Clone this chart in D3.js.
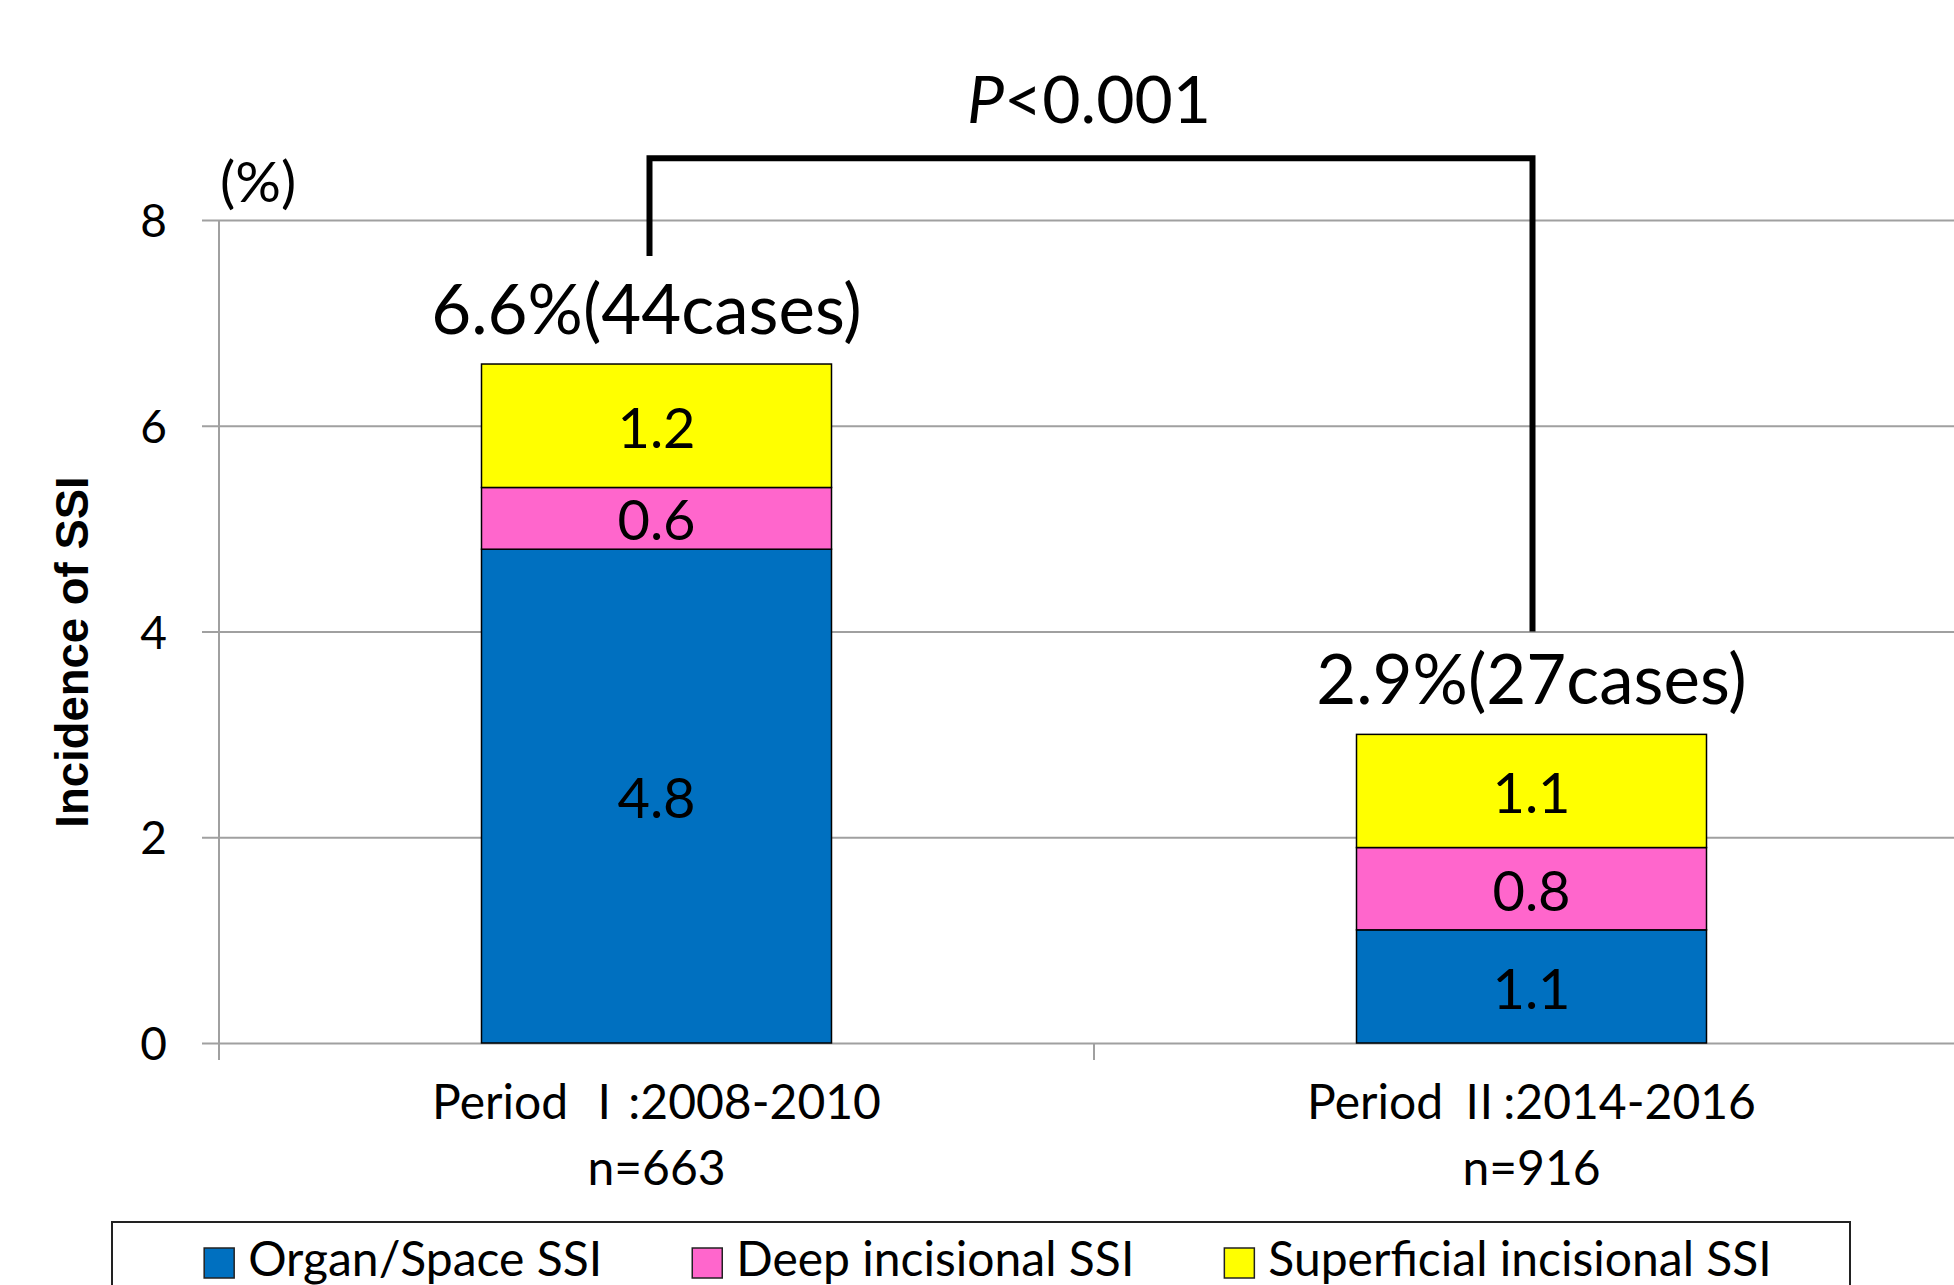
<!DOCTYPE html>
<html>
<head>
<meta charset="utf-8">
<script src="https://cdn.jsdelivr.net/npm/d3@7"></script>
<style>
  body { margin: 0; background: #fff; }
  text { font-family: Lato, "Noto Sans CJK JP", sans-serif; fill: #000; }
</style>
</head>
<body>
<div id="chart"></div>
<script>
// values
const periods = ["Period Ⅰ:2008-2010", "Period Ⅱ:2014-2016"];
const sampleSizes = ["n=663", "n=916"];
const seriesNames = ["Organ/Space SSI", "Deep incisional SSI", "Superficial incisional SSI"];
const organSpace = [4.8, 1.1];
const deepIncisional = [0.6, 0.8];
const superficial = [1.2, 1.1];
const totalLabels = ["6.6%(44cases)", "2.9%(27cases)"];
const yTicks = [0, 2, 4, 6, 8];
const pLabel = "P<0.001";
const bracketTop = 8.6;
const bracketEnds = [7.65, 4.0];

const colors = ["#0070C0", "#FF66CC", "#FFFF00"];

let w = 1954;
let h = 1285;

const svg = d3.select("#chart").
append("svg").
attr("width", w).
attr("height", h);

// plot area (category band runs past the right edge like the original)
const x = d3.scaleBand().
domain(periods).
range([219, 1969]).
padding(0);

const y = d3.scaleLinear().
domain([0, 8]).
range([1043, 220]);

const barW = x.bandwidth() * 0.4;
const barX = d => x(d) + (x.bandwidth() - barW) / 2;
const cx = d => x(d) + x.bandwidth() / 2;

// y axis with gridlines
const yAxis = d3.axisLeft(y).
tickValues(yTicks).
tickSizeInner(-(w - 219)).
tickSizeOuter(0).
tickPadding(52);

const gy = svg.append("g").
attr("transform", "translate(219,0)").
call(yAxis);
gy.select(".domain").remove();
gy.selectAll(".tick line").
attr("x1", -17).
attr("stroke", "#A0A0A0").
attr("stroke-width", 2);
gy.selectAll(".tick text").
attr("dy", "0.36em").
style("font-size", "46px").
style("font-family", "Lato");

// vertical axis line + category separators
svg.append("line").
attr("x1", 219).attr("x2", 219).
attr("y1", y(8)).attr("y2", y(0) + 17).
attr("stroke", "#A0A0A0").attr("stroke-width", 2);

svg.selectAll(".cat-tick").
data(periods.slice(1)).
enter().
append("line").
attr("x1", d => x(d)).attr("x2", d => x(d)).
attr("y1", y(0)).attr("y2", y(0) + 17).
attr("stroke", "#A0A0A0").attr("stroke-width", 2);

// stacked bars
const stackData = periods.map((p, i) => ({
  period: p,
  organ: organSpace[i],
  deep: deepIncisional[i],
  sup: superficial[i]
}));
const stack = d3.stack().keys(["organ", "deep", "sup"]);
const layers = stack(stackData);

const layerG = svg.selectAll(".layer").
data(layers).
enter().
append("g").
attr("class", "layer").
attr("fill", (d, i) => colors[i]);

layerG.selectAll("rect").
data(d => d).
enter().
append("rect").
attr("x", d => barX(d.data.period)).
attr("y", d => y(d[1])).
attr("width", barW).
attr("height", d => y(d[0]) - y(d[1])).
attr("stroke", "#000").
attr("stroke-width", 1.5);

layerG.selectAll("text").
data(d => d).
enter().
append("text").
attr("x", d => cx(d.data.period)).
attr("y", d => (y(d[0]) + y(d[1])) / 2 + 2).
attr("dy", "0.36em").
attr("text-anchor", "middle").
style("font-size", "56px").
text(d => (d[1] - d[0]).toFixed(1));

// totals above bars
svg.selectAll(".total").
data(periods).
enter().
append("text").
attr("x", (d, i) => cx(d) - (i === 0 ? 10 : 0)).
attr("y", (d, i) => y(organSpace[i] + deepIncisional[i] + superficial[i]) - 30).
attr("text-anchor", "middle").
style("font-size", "69px").
text((d, i) => totalLabels[i]);

// category labels
const catText = svg.selectAll(".cat").
data(periods).
enter().
append("text").
attr("text-anchor", "middle").
style("font-size", "48px");
catText.append("tspan").
attr("x", d => cx(d)).
attr("y", 1119).
text(d => d);
catText.append("tspan").
attr("x", d => cx(d)).
attr("y", 1185).
text((d, i) => sampleSizes[i]);

// (%) unit
svg.append("text").
attr("x", 220).
attr("y", 202).
style("font-size", "57px").
text("(%)");

// y axis title
svg.append("text").
attr("transform", "translate(88,652) rotate(-90)").
attr("text-anchor", "middle").
style("font-family", "'Liberation Sans', Arial, sans-serif").
style("font-weight", "bold").
style("font-size", "45.5px").
text("Incidence of SSI");

// significance bracket
const bx = periods.map(d => cx(d));
svg.append("path").
attr("d", d3.line()([
  [bx[0] - 7, y(bracketEnds[0])],
  [bx[0] - 7, y(bracketTop)],
  [bx[1] + 1, y(bracketTop)],
  [bx[1] + 1, y(bracketEnds[1])]
])).
attr("fill", "none").
attr("stroke", "#000").
attr("stroke-width", 6);

const pText = svg.append("text").
attr("x", (bx[0] + bx[1]) / 2 - 5).
attr("y", 123).
attr("text-anchor", "middle").
style("font-size", "66px");
pText.append("tspan").style("font-style", "italic").text(pLabel.slice(0, 1));
pText.append("tspan").text(pLabel.slice(1));

// legend
const legend = svg.append("g").attr("id", "legend");
legend.append("rect").
attr("x", 112).
attr("y", 1222).
attr("width", 1738).
attr("height", 100).
attr("fill", "#fff").
attr("stroke", "#222").
attr("stroke-width", 2);

const items = legend.append("g");
let cursor = 0;
seriesNames.forEach((name, i) => {
  const g = items.append("g").attr("transform", "translate(" + cursor + ",0)");
  g.append("rect").
  attr("x", 0).
  attr("y", 1248).
  attr("width", 30).
  attr("height", 30).
  attr("fill", colors[i]).
  attr("stroke", "#222").
  attr("stroke-width", 1.5);
  const t = g.append("text").
  attr("x", 44).
  attr("y", 1276).
  style("font-size", "48px").
  text(name);
  cursor += 44 + t.node().getComputedTextLength() + 90;
});
const itemsW = cursor - 90;
items.attr("transform", "translate(" + (981 - itemsW / 2 + 7) + ",0)");
</script>
</body>
</html>
